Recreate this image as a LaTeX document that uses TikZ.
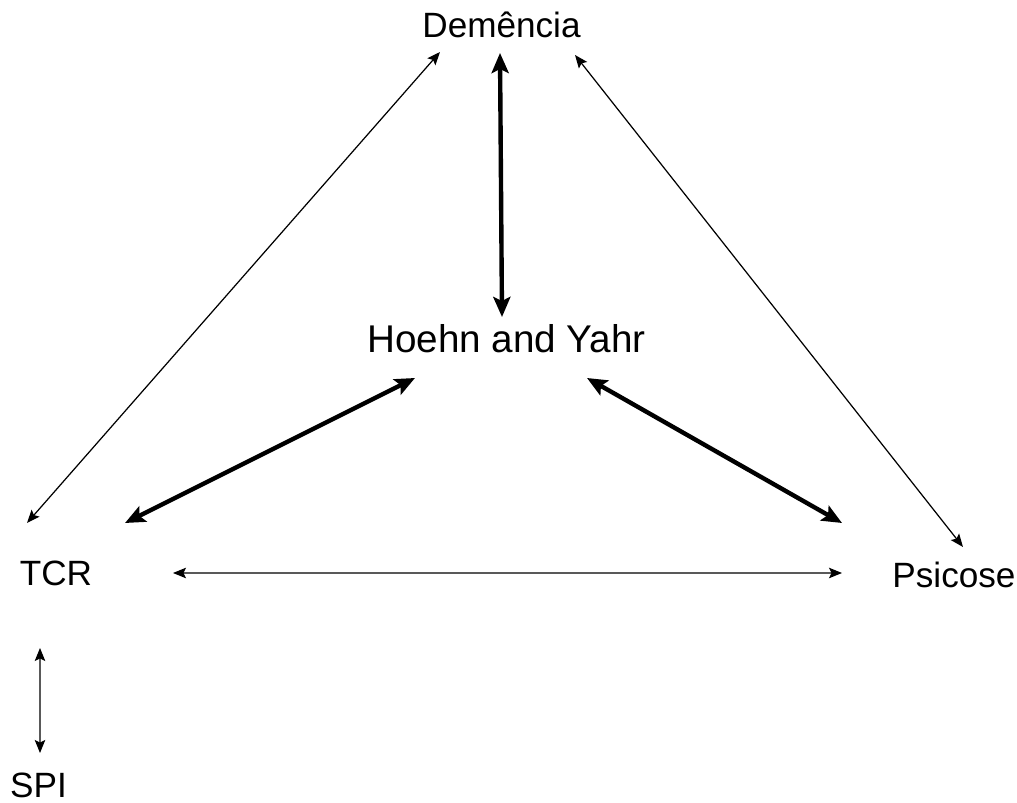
\documentclass[tikz,border=0pt]{standalone}
\usepackage{fontspec}
\setmainfont{Liberation Sans}
\usetikzlibrary{arrows.meta}

\begin{document}
\begin{tikzpicture}[
  lbl/.style={anchor=base,inner sep=0pt,font=\fontsize{20}{24}\selectfont},
  biglbl/.style={lbl,font=\fontsize{22}{26}\selectfont},
  thinarr/.style={line width=0.7pt,{Stealth[length=2.6mm,width=2.1mm,inset=0.5mm]}-{Stealth[length=2.6mm,width=2.1mm,inset=0.5mm]}},
  thickarr/.style={line width=2.5pt,{Stealth[length=4mm,width=3.4mm,inset=0.8mm]}-{Stealth[length=4mm,width=3.4mm,inset=0.8mm]}}]
\useasboundingbox (0,0) rectangle (20.34,-16.06);
\node [lbl] (dem) at (10.03,-0.76) {Demência};
\node [biglbl] (hy) at (10.13,-7.06) {Hoehn and Yahr};
\node [lbl] (tcr) at (1.12,-11.72) {TCR};
\node [lbl] (psi) at (19.08,-11.76) {Psicose};
\node [lbl] (spi) at (0.77,-15.96) {SPI};
\draw [thinarr] ([shift={(-0.58,1.26)}]tcr.base) -- ([shift={(-1.23,-0.28)}]dem.base);
\draw [thinarr] ([shift={(1.47,-0.34)}]dem.base) -- ([shift={(0.18,0.82)}]psi.base);
\draw [thickarr] ([shift={(-0.03,-0.30)}]dem.base) -- ([shift={(-0.09,0.72)}]hy.base);
\draw [thickarr] ([shift={(1.38,1.26)}]tcr.base) -- ([shift={(-1.83,-0.50)}]hy.base);
\draw [thickarr] ([shift={(1.61,-0.50)}]hy.base) -- ([shift={(-2.24,1.30)}]psi.base);
\draw [thinarr] ([shift={(2.34,0.26)}]tcr.base) -- ([shift={(-2.24,0.30)}]psi.base);
\draw [thinarr] ([shift={(-0.32,-1.24)}]tcr.base) -- ([shift={(0.03,0.90)}]spi.base);
\end{tikzpicture}
\end{document}
